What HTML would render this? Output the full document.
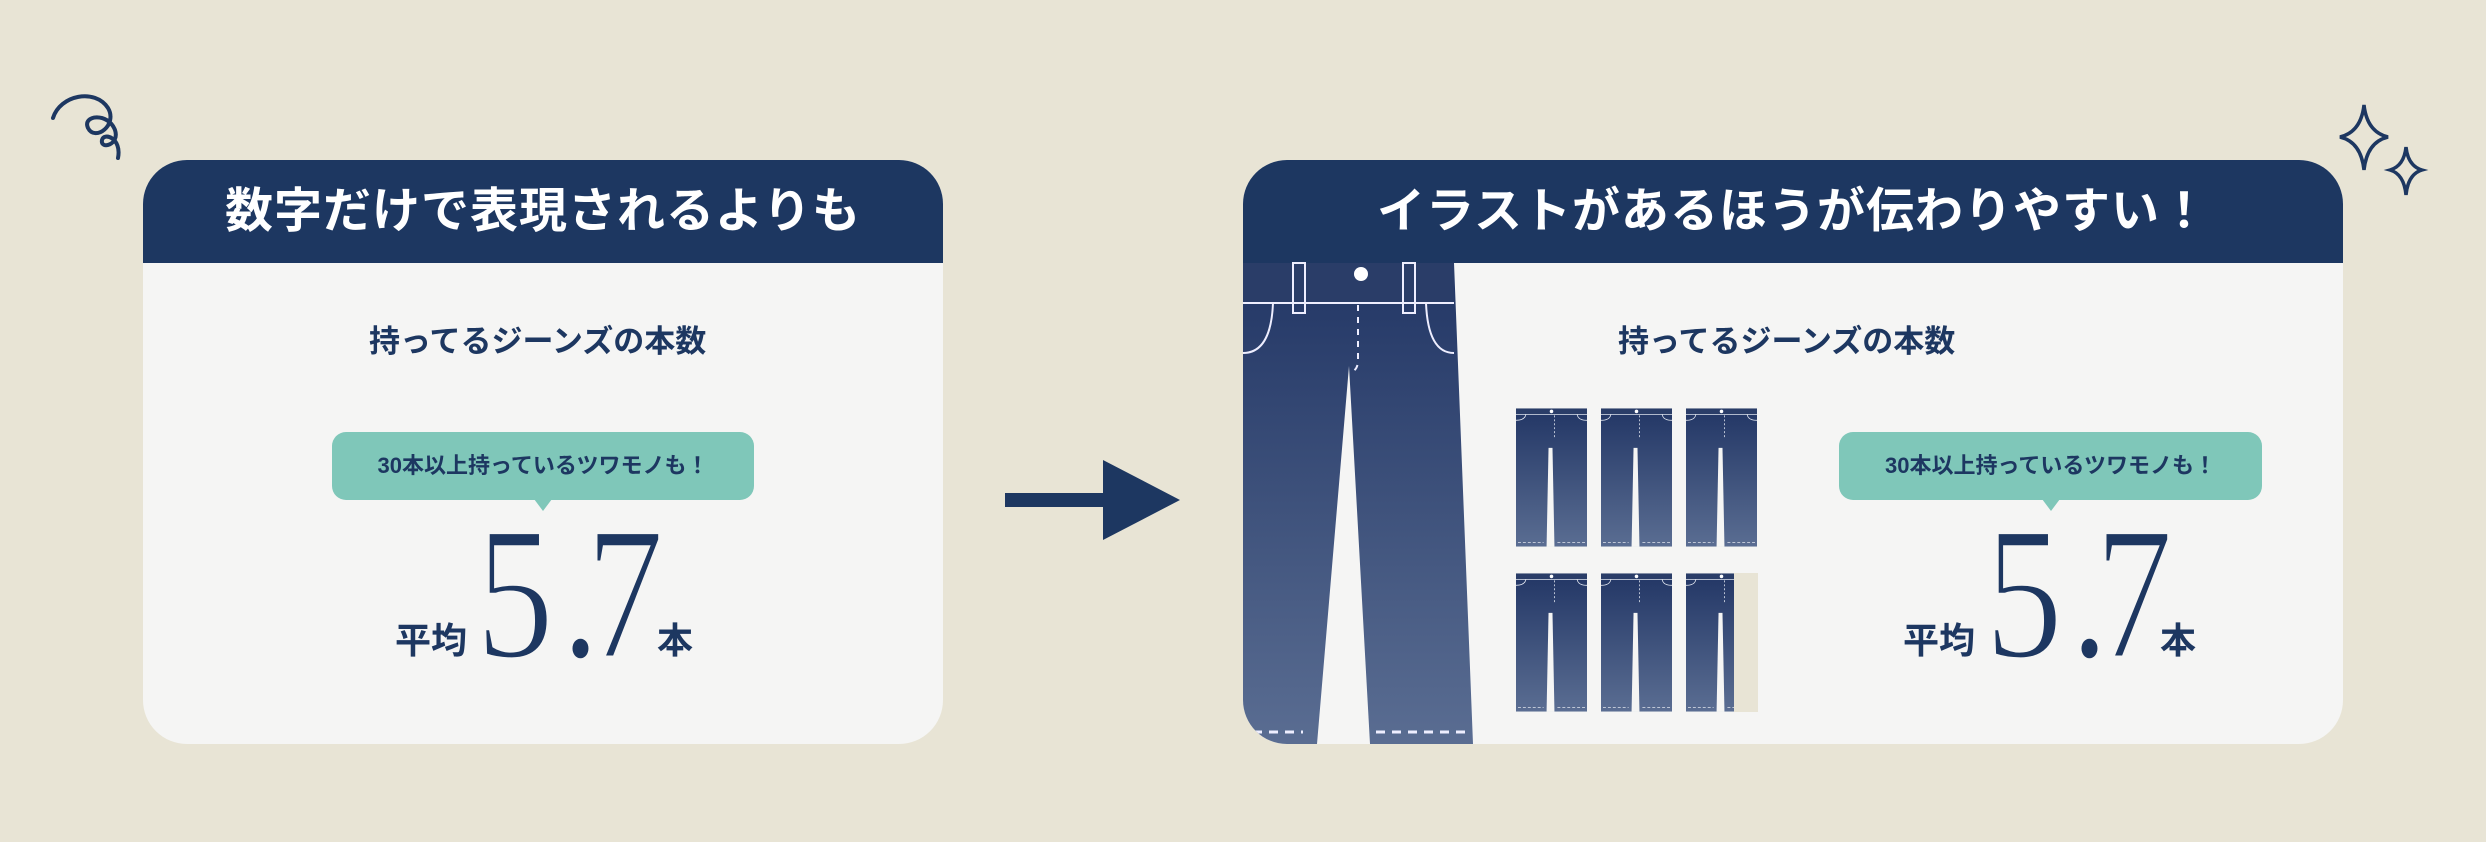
<!DOCTYPE html>
<html><head><meta charset="utf-8"><style>
html,body{margin:0;padding:0}
body{width:2486px;height:842px;background:#e8e4d5;position:relative;overflow:hidden;font-family:"Liberation Sans","Noto Sans CJK JP",sans-serif;color:#1d3761}
.card{position:absolute;top:160px;height:584px;background:#f5f5f4;border-radius:44px;overflow:hidden}
.hd{position:absolute;left:0;right:0;top:0;height:103px;background:#1d3761;color:#fff;font-weight:bold;font-size:48px;text-align:center;line-height:103px;letter-spacing:1px}
.sub{position:absolute;font-weight:bold;font-size:31px;white-space:nowrap}
.bub{position:absolute;height:68px;background:#7fc7b9;border-radius:14px;text-align:center;line-height:68px;font-weight:bold;font-size:22px}
.bub:after{content:"";position:absolute;left:50%;margin-left:-9px;bottom:-11px;border-left:9px solid transparent;border-right:9px solid transparent;border-top:12px solid #7fc7b9}
.t{position:absolute;font-weight:bold;font-size:36px;white-space:nowrap}
.n{position:absolute;font-family:"Liberation Serif","DejaVu Serif",serif;font-size:190px;line-height:1;white-space:nowrap;-webkit-text-stroke:3px #f5f5f4;transform:scaleX(0.82);transform-origin:left top}
</style></head><body>
<svg width="2486" height="842" style="position:absolute;left:0;top:0">
<defs>
<linearGradient id="g" x1="0" y1="0" x2="0" y2="1"><stop offset="0" stop-color="#223665"/><stop offset="1" stop-color="#5a6d92"/></linearGradient>
<symbol id="j" viewBox="0 0 72 140">
<rect x="0" y="0" width="72" height="140" fill="url(#g)"/>
<polygon points="33,40 37,40 39,140 31,140" fill="#f5f5f4"/>
<rect x="0" y="0" width="72" height="6" fill="#2a3d68"/>
<line x1="0" y1="6" x2="72" y2="6" stroke="#dfe4ee" stroke-width="0.8"/>
<path d="M0,12 Q9,12 10,6 M72,12 Q63,12 62,6" stroke="#dfe4ee" stroke-width="0.8" fill="none"/>
<circle cx="36" cy="3" r="1.8" fill="#fff"/>
<line x1="39" y1="7" x2="39" y2="30" stroke="#dfe4ee" stroke-width="0.8" stroke-dasharray="2 2"/>
<line x1="2" y1="136" x2="28" y2="136" stroke="#dfe4ee" stroke-width="0.8" stroke-dasharray="3 2"/>
<line x1="42" y1="136" x2="70" y2="136" stroke="#dfe4ee" stroke-width="0.8" stroke-dasharray="3 2"/>
</symbol>
</defs>
<path d="M53,118 C60,95 95,88 108,108 C118,125 95,142 88,128 C82,115 108,112 115,130 C120,145 100,150 102,140 C104,132 122,138 118,158" stroke="#1d3761" stroke-width="4" fill="none" stroke-linecap="round"/>
<path d="M2364,105 Q2367,132 2388,137 Q2367,142 2364,170 Q2361,142 2340,137 Q2361,132 2364,105Z" stroke="#1d3761" stroke-width="3.5" fill="none"/>
<path d="M2406,147 Q2408,166 2422,170 Q2408,174 2406,195 Q2404,174 2390,170 Q2404,166 2406,147Z" stroke="#1d3761" stroke-width="3.5" fill="none"/>
<rect x="1005" y="493" width="110" height="14" fill="#1d3761"/>
<polygon points="1103,460 1180,500 1103,540" fill="#1d3761"/>
</svg>

<div class="card" style="left:143px;width:800px">
<div class="hd">数字だけで表現されるよりも</div>
<div class="sub" style="left:226px;top:156px">持ってるジーンズの本数</div>
<div class="bub" style="left:189px;top:272px;width:422px">30本以上持っているツワモノも！</div>
<div class="t" style="left:252px;top:452px">平均</div>
<div class="n" style="left:333px;top:339px">5</div>
<div class="n" style="left:418px;top:339px">.</div>
<div class="n" style="left:443px;top:339px">7</div>
<div class="t" style="left:514px;top:452px">本</div>
</div>

<div class="card" style="left:1243px;width:1100px">
<div class="hd">イラストがあるほうが伝わりやすい！</div>
<svg width="1100" height="584" style="position:absolute;left:0;top:0">
<polygon points="0,103 211,103 230,584 127,584 106,206 74,584 0,584" fill="url(#g)"/>
<rect x="0" y="103" width="211" height="40" fill="#2a3d68"/>
<line x1="0" y1="143" x2="211" y2="143" stroke="#eef" stroke-width="2"/>
<path d="M0,193 Q28,193 30,143 M211,193 Q185,193 183,143" stroke="#eef" stroke-width="2" fill="none"/>
<rect x="50" y="103" width="12" height="50" fill="none" stroke="#eef" stroke-width="2"/>
<rect x="160" y="103" width="12" height="50" fill="none" stroke="#eef" stroke-width="2"/>
<circle cx="118" cy="114" r="7" fill="#fff"/>
<path d="M115,145 L115,200 Q115,210 108,212" stroke="#eef" stroke-width="2" fill="none" stroke-dasharray="6 6"/>
<line x1="10" y1="572" x2="60" y2="572" stroke="#eef" stroke-width="3" stroke-dasharray="9 7"/>
<line x1="133" y1="572" x2="225" y2="572" stroke="#eef" stroke-width="3" stroke-dasharray="9 7"/>
<use href="#j" x="273" y="248" width="71" height="139"/>
<use href="#j" x="358" y="248" width="71" height="139"/>
<use href="#j" x="443" y="248" width="71" height="139"/>
<use href="#j" x="273" y="413" width="71" height="139"/>
<use href="#j" x="358" y="413" width="71" height="139"/>
<use href="#j" x="443" y="413" width="71" height="139"/>
<rect x="491" y="413" width="24" height="139" fill="#e8e4d5"/>
</svg>
<div class="sub" style="left:375px;top:156px">持ってるジーンズの本数</div>
<div class="bub" style="left:596px;top:272px;width:423px">30本以上持っているツワモノも！</div>
<div class="t" style="left:660px;top:452px">平均</div>
<div class="n" style="left:742px;top:339px">5</div>
<div class="n" style="left:827px;top:339px">.</div>
<div class="n" style="left:852px;top:339px">7</div>
<div class="t" style="left:917px;top:452px">本</div>
</div>
</body></html>
